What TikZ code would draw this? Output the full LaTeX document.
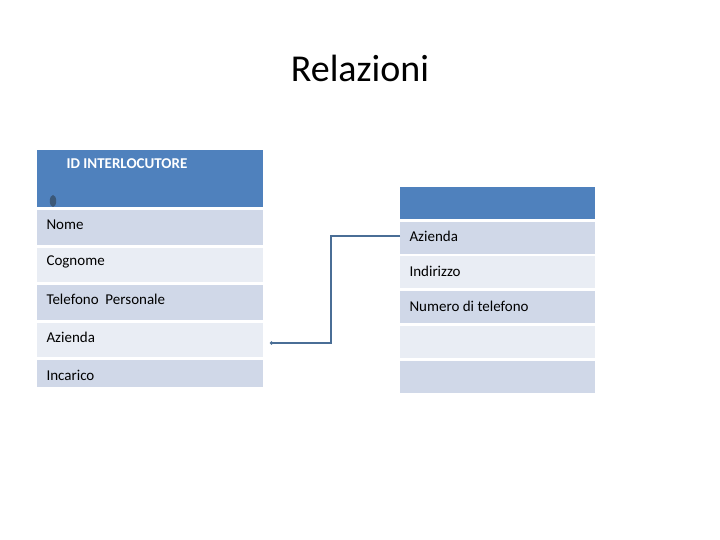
\documentclass[tikz,border=0pt]{standalone}
\usepackage{fontspec}
\setmainfont{Carlito}
\usetikzlibrary{arrows.meta}
\definecolor{hdr}{HTML}{4F81BD}
\definecolor{rowA}{HTML}{D0D8E8}
\definecolor{rowB}{HTML}{E9EDF4}
\definecolor{lnk}{HTML}{4A6E96}
\begin{document}
\begin{tikzpicture}[x=1pt,y=-1pt,
  cell/.style={anchor=north west,inner sep=0pt,text width=#1},
  lbl/.style={font=\fontsize{15}{18}\selectfont,anchor=west}]
\useasboundingbox (0,0) rectangle (720,540);
\fill[white] (0,0) rectangle (720,540);
\node (title) at (360,68) {\fontsize{38}{44}\selectfont Relazioni};
% left table
\fill[hdr] (37,150) rectangle (263,207);
\node[font=\bfseries\fontsize{15}{18}\selectfont,text=white,anchor=west] (idh) at (63,164) {ID INTERLOCUTORE};
\fill[rowA] (37,210) rectangle (263,245);
\fill[rowB] (37,248) rectangle (263,282);
\fill[rowA] (37,285) rectangle (263,320);
\fill[rowB] (37,323) rectangle (263,357);
\fill[rowA] (37,360) rectangle (263,387);
\fill[lnk!80!black] (53,201) ellipse (3.2 and 6);
\node[lbl] (nome) at (43,225) {Nome};
\node[lbl] (cog) at (43,262) {Cognome};
\node[lbl] (tel) at (43,299) {Telefono\ \ Personale};
\node[lbl] (az) at (43,337) {Azienda};
\node[lbl] (inc) at (43,375) {Incarico};
% right table
\fill[hdr] (400,187) rectangle (595,219);
\fill[rowA] (400,222) rectangle (595,254);
\fill[rowB] (400,256) rectangle (595,288);
\fill[rowA] (400,291) rectangle (595,323);
\fill[rowB] (400,326) rectangle (595,358);
\fill[rowA] (400,361) rectangle (595,393);
\node[lbl] (raz) at (406,236) {Azienda};
\node[lbl] (rind) at (406,271) {Indirizzo};
\node[lbl] (rnum) at (406,306) {Numero di telefono};
% connector
\coordinate (cs) at (400,236);
\coordinate (ce) at (270,343);
\draw[lnk,line width=1.5pt,-{Circle[length=3pt]}] (cs) -- (331,236) -- (331,343) -- (ce);
\end{tikzpicture}
\end{document}
